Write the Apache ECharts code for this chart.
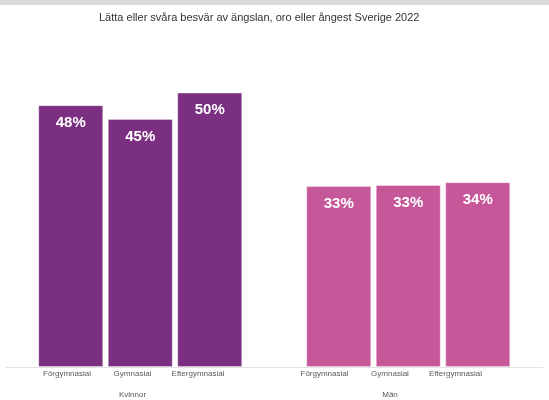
<!DOCTYPE html>
<html>
<head>
<meta charset="utf-8">
<script src="https://cdn.jsdelivr.net/npm/echarts@6/dist/echarts.min.js"></script>
<style>
  html, body { margin: 0; padding: 0; background: #fff; }
  #chart { width: 549px; height: 400px; }
</style>
</head>
<body>
<div id="chart"></div>
<script>
var chartTitle = 'Lätta eller svåra besvär av ängslan, oro eller ångest Sverige 2022';
var educationLevels = ['Förgymnasial', 'Gymnasial', 'Eftergymnasial'];
var groups = ['Kvinnor', 'Män'];
var kvinnorValues = [47.6, 45.1, 49.9];
var manValues = [32.9, 33.1, 33.6];

var font = 'Liberation Sans';

function barGridAxis(gridIndex) {
    return {
        type: 'category',
        gridIndex: gridIndex,
        data: educationLevels,
        axisLine: { show: false },
        axisTick: { show: false },
        axisLabel: { show: false }
    };
}

// separate axes for the text, Excel spaces them a bit tighter than the bars
function labelAxis(gridIndex, name) {
    return {
        type: 'category',
        gridIndex: gridIndex,
        data: educationLevels,
        axisLine: { show: false },
        axisTick: { show: false },
        axisLabel: { color: '#595959', fontSize: 8, fontFamily: font, margin: 3, interval: 0 },
        name: name,
        nameLocation: 'middle',
        nameGap: 24,
        nameTextStyle: { color: '#595959', fontSize: 8, fontFamily: font }
    };
}

function hiddenY(gridIndex) {
    return {
        type: 'value',
        gridIndex: gridIndex,
        min: 0,
        max: 60,
        show: false
    };
}

function barSeries(idx, values, color) {
    return {
        type: 'bar',
        xAxisIndex: idx,
        yAxisIndex: idx,
        data: values,
        barWidth: 65,
        itemStyle: { color: color, borderColor: 'rgba(255,255,255,0.35)', borderWidth: 1 },
        label: {
            show: true,
            position: 'insideTop',
            distance: 10,
            color: '#fff',
            fontWeight: 'bold',
            fontSize: 15,
            fontFamily: font,
            formatter: function (p) { return Math.round(p.value) + '%'; }
        }
    };
}

function makeGrid(left, width) {
    return { left: left, width: width, top: 37, bottom: 33, outerBoundsMode: 'none', containLabel: false };
}

var chart = echarts.init(document.getElementById('chart'));
chart.setOption({
    backgroundColor: '#fff',
    animation: false,
    title: {
        text: chartTitle,
        left: 99,
        top: 12,
        padding: 0,
        textStyle: { color: '#333', fontSize: 11, fontWeight: 'normal', fontFamily: font }
    },
    graphic: [
        { type: 'rect', shape: { x: 0, y: 0, width: 549, height: 5 }, style: { fill: '#d9d9d9' }, silent: true },
        { type: 'line', shape: { x1: 6, y1: 367.5, x2: 543, y2: 367.5 }, style: { stroke: '#e3e3e3', lineWidth: 1 }, silent: true }
    ],
    grid: [
        makeGrid(36, 208.5),
        makeGrid(304, 208.5),
        makeGrid(34.25, 196.5),
        makeGrid(291.75, 196.5)
    ],
    xAxis: [
        barGridAxis(0),
        barGridAxis(1),
        labelAxis(2, groups[0]),
        labelAxis(3, groups[1])
    ],
    yAxis: [hiddenY(0), hiddenY(1), hiddenY(2), hiddenY(3)],
    series: [
        barSeries(0, kvinnorValues, '#7b2f81'),
        barSeries(1, manValues, '#c65899')
    ]
});
</script>
</body>
</html>
